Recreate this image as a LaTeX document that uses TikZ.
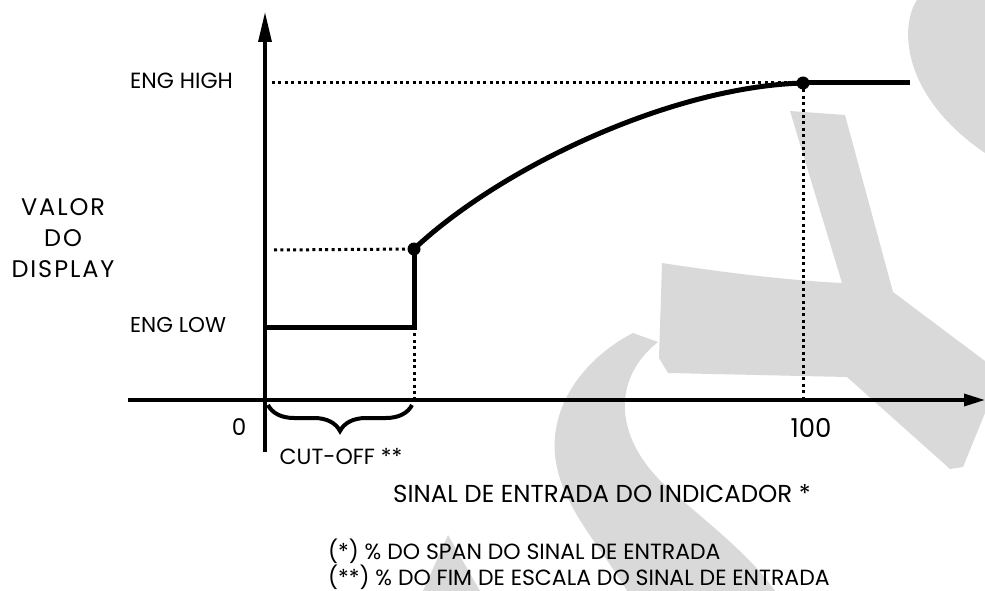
\documentclass[tikz,border=0pt]{standalone}
\usepackage{fontspec}
\setmainfont{Poppins}
\usetikzlibrary{arrows.meta,decorations.pathreplacing}
\definecolor{wm}{HTML}{D9D9D9}
\tikzset{
  axis/.style={line width=3.3pt},
  curve/.style={line width=5pt},
  dotline/.style={line width=3pt, dash pattern=on 3pt off 3.4pt},
  knot/.style={circle, fill=black, inner sep=0pt, minimum size=13pt},
  lbl/.style={inner sep=0pt, font=\fontsize{22}{26}\selectfont},
  biglbl/.style={inner sep=0pt, font=\fontsize{24}{28}\selectfont\addfontfeature{LetterSpace=8}},
  wmark/.style={fill=wm, draw=none}
}
\begin{document}
\begin{tikzpicture}[x=1pt,y=-1pt]
\useasboundingbox (0,0) rectangle (985,591);
% watermark
\fill[wmark] (917,0) .. controls (900,25) and (900,95) .. (985,153) -- (985,0) -- cycle;
\fill[wmark] (790,111) -- (845,115) -- (893,292) -- (985,361) -- (985,413) -- (963,467) -- (950,469)
  -- (847,377) -- (668,373) -- (659,358) -- (662,263) .. controls (740,275) and (800,281) .. (842,283) -- cycle;
\fill[wmark] (633,333) -- (658,342) .. controls (610,380) and (615,440) .. (667,487)
  .. controls (710,525) and (750,555) .. (775,591) -- (627,591)
  .. controls (600,545) and (560,505) .. (555,455) .. controls (550,400) and (590,355) .. cycle;
\fill[wmark] (448,535) -- (480,591) -- (423,591) -- cycle;
% coordinates
\coordinate (ybot) at (265,452);
\coordinate (ytop) at (265,12);
\coordinate (xl) at (128,400);
\coordinate (xr) at (985,400);
\coordinate (lowstart) at (265,327);
\coordinate (lowend) at (414,327);
\coordinate (hiend) at (910,83);
\coordinate (hidot) at (272,83);
\coordinate (middot) at (274,250);
\coordinate (cutax) at (414,400);
\coordinate (fullax) at (803,400);
\coordinate (bl) at (268,405);
\coordinate (br) at (412,405);
% axes
\draw[axis, -{Triangle[length=30pt,width=13pt]}] (ybot) -- (ytop);
\draw[axis, -{Triangle[length=21pt,width=12pt]}] (xl) -- (xr);
% knots
\node[knot] (P1) at (414,249) {};
\node[knot] (P2) at (803,83) {};
% dotted guides
\draw[dotline] (hidot) -- (P2.center);
\draw[dotline] (middot) -- (P1.center);
\draw[dotline] (lowend) -- (cutax);
\draw[dotline] (P2.center) -- (fullax);
% characteristic
\draw[curve, line join=miter] (lowstart) -- (lowend) -- (P1.center);
\draw[curve] (P1.center) .. controls (500,168) and (670,87) .. (P2.center);
\draw[curve] (P2.center) -- (hiend);
% brace
\draw[line width=4pt, decorate, decoration={brace, mirror, amplitude=26pt, aspect=0.5}] (bl) -- (br);
% labels
\node[lbl, anchor=west] (enghigh) at (130,81) {ENG HIGH};
\node[lbl, anchor=west, font=\fontsize{21.5}{26}\selectfont] (englow) at (130,325) {ENG LOW};
\node[biglbl] (valor) at (63,207) {VALOR};
\node[biglbl] (do) at (63,238) {DO};
\node[biglbl] (display) at (63,269) {DISPLAY};
\node[lbl, font=\fontsize{23}{26}\selectfont] (zero) at (239,427) {0};
\node[lbl, font=\fontsize{26}{30}\selectfont\addfontfeature{Numbers=Monospaced}] (cem) at (811,428) {100};
\node[lbl] (cutoff) at (341,456) {CUT-OFF **};
\node[lbl, anchor=west, font=\fontsize{24.5}{28}\selectfont] (sinal) at (393,494) {SINAL DE ENTRADA DO INDICADOR *};
\node[lbl, anchor=base west] (fn1) at (328,559) {(*) \% DO SPAN DO SINAL DE ENTRADA};
\node[lbl, anchor=base west] (fn2) at (328,585) {(**) \% DO FIM DE ESCALA DO SINAL DE ENTRADA};
\end{tikzpicture}
\end{document}
